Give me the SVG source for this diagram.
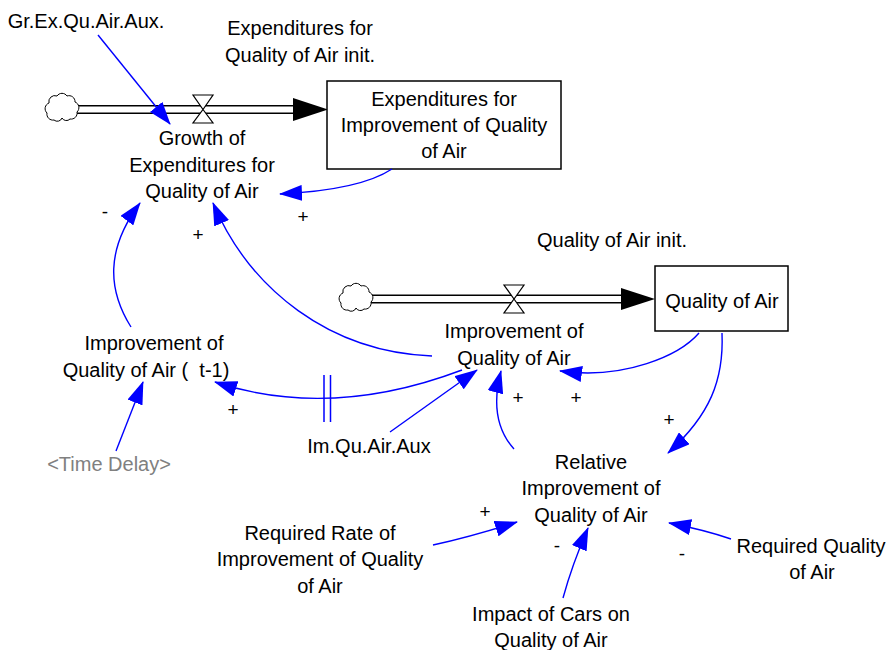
<svg xmlns="http://www.w3.org/2000/svg" width="888" height="650" viewBox="0 0 888 650">
<style>
text{font-family:"Liberation Sans",Arial,sans-serif;font-size:20px;fill:#000;text-anchor:middle}
.sg{font-size:19px}
.gray{fill:#808080}
.lk{fill:none;stroke:#0000ff;stroke-width:1.4;marker-end:url(#ah)}
.dl{stroke:#0000ff;stroke-width:1.5}
.box{fill:#fff;stroke:#000;stroke-width:1.5}
.po{stroke:#000;stroke-width:9;fill:none}
.pi{stroke:#fff;stroke-width:6;fill:none}
.valve{fill:#fff;stroke:#000;stroke-width:1.2}
.cl{fill:#fff;stroke:#000;stroke-width:1}
</style>
<defs>
<marker id="ah" markerUnits="userSpaceOnUse" markerWidth="23" markerHeight="16" viewBox="0 0 23 16" refX="22" refY="8" orient="auto">
<path d="M0,0 L23,8 L0,16 z" fill="#0000ff"/>
</marker>
<path id="cloud" d="M-13,-5 A6,6 0 0 1 -5,-12 A6,6 0 0 1 5,-12 A6,6 0 0 1 13,-6 A6,6 0 0 1 15,4 A6,6 0 0 1 8,11 A5,5 0 0 1 0,10 A5,5 0 0 1 -8,12 A6,6 0 0 1 -15,5 A6,6 0 0 1 -13,-5 Z"/>
</defs>

<g id="flow1-pipe">
<path class="po" d="M76,109.5 H295"/>
<path class="pi" d="M76,109.5 H296"/>
<path d="M293,98 L328,109.5 L293,121 z" fill="#000"/>
</g>
<g id="flow2-pipe">
<path class="po" d="M370,299 H623"/>
<path class="pi" d="M370,299 H624"/>
<path d="M621,288 L655,299 L621,310 z" fill="#000"/>
</g>

<g id="cloud1"><use href="#cloud" class="cl" transform="translate(62,108)"/></g>
<g id="cloud2"><use href="#cloud" class="cl" transform="translate(356,298)"/></g>

<g id="stock1">
<rect class="box" x="327" y="81" width="234" height="88"/>
<text x="444" y="106">Expenditures for</text>
<text x="444" y="132">Improvement of Quality</text>
<text x="444" y="158">of Air</text>
</g>
<g id="stock2">
<rect class="box" x="655" y="266" width="133" height="65"/>
<text x="722" y="308">Quality of Air</text>
</g>

<g id="flow1">
<path class="valve" d="M193,95 H213 L203,109.5 z M203,109.5 L213,123 H193 z"/>
<text x="202" y="145">Growth of</text>
<text x="202" y="172">Expenditures for</text>
<text x="202" y="198">Quality of Air</text>
</g>
<g id="flow2">
<path class="valve" d="M504,285 H524 L514,299 z M514,299 L524,313 H504 z"/>
<text x="514" y="338">Improvement of</text>
<text x="514" y="365">Quality of Air</text>
</g>

<g id="grexaux"><text x="86" y="28">Gr.Ex.Qu.Air.Aux.</text></g>
<g id="expinit"><text x="300" y="35">Expenditures for</text><text x="300" y="62">Quality of Air init.</text></g>
<g id="qinit"><text x="612" y="247">Quality of Air init.</text></g>
<g id="imprev"><text x="154" y="350">Improvement of</text><text x="146" y="377" xml:space="preserve">Quality of Air (  t-1)</text></g>
<g id="timedelay"><text class="gray" x="109" y="471">&lt;Time Delay&gt;</text></g>
<g id="imaux"><text x="369" y="453">Im.Qu.Air.Aux</text></g>
<g id="relative"><text x="591" y="469">Relative</text><text x="591" y="495">Improvement of</text><text x="591" y="522">Quality of Air</text></g>
<g id="reqrate"><text x="320" y="540">Required Rate of</text><text x="320" y="566">Improvement of Quality</text><text x="320" y="593">of Air</text></g>
<g id="reqq"><text x="811" y="553">Required Quality</text><text x="812" y="579">of Air</text></g>
<g id="impact"><text x="551" y="621">Impact of Cars on</text><text x="551" y="647">Quality of Air</text></g>

<g id="connectors">
<path class="lk" d="M98,35 L170,124"/>
<path class="lk" d="M392,169 Q360,190 280,194"/>
<path class="lk" d="M131,327 C108,290 105,250 140,203"/>
<path class="lk" d="M432,356 C330,352 250,290 213,203"/>
<path class="lk" d="M462,370 Q330,420 215,382"/>
<path class="dl" d="M324,375 V422 M330.5,375 V422"/>
<path class="lk" d="M116,451 L143,382"/>
<path class="lk" d="M390,432 L477,370"/>
<path class="lk" d="M514,449 Q488,420 501,371"/>
<path class="lk" d="M699,333 C680,355 625,380 560,371"/>
<path class="lk" d="M722,333 C724,380 710,415 668,453"/>
<path class="lk" d="M433,545 Q470,537 517,522"/>
<path class="lk" d="M563,598 Q572,565 588,528"/>
<path class="lk" d="M731,539 Q705,530 669,523"/>
</g>

<g id="polarities">
<text class="sg" x="105" y="218">-</text>
<text class="sg" x="198" y="241">+</text>
<text class="sg" x="303" y="223">+</text>
<text class="sg" x="233" y="416">+</text>
<text class="sg" x="518" y="404">+</text>
<text class="sg" x="576" y="404">+</text>
<text class="sg" x="669" y="426">+</text>
<text class="sg" x="485" y="518">+</text>
<text class="sg" x="557" y="552">-</text>
<text class="sg" x="682" y="560">-</text>
</g>
</svg>
